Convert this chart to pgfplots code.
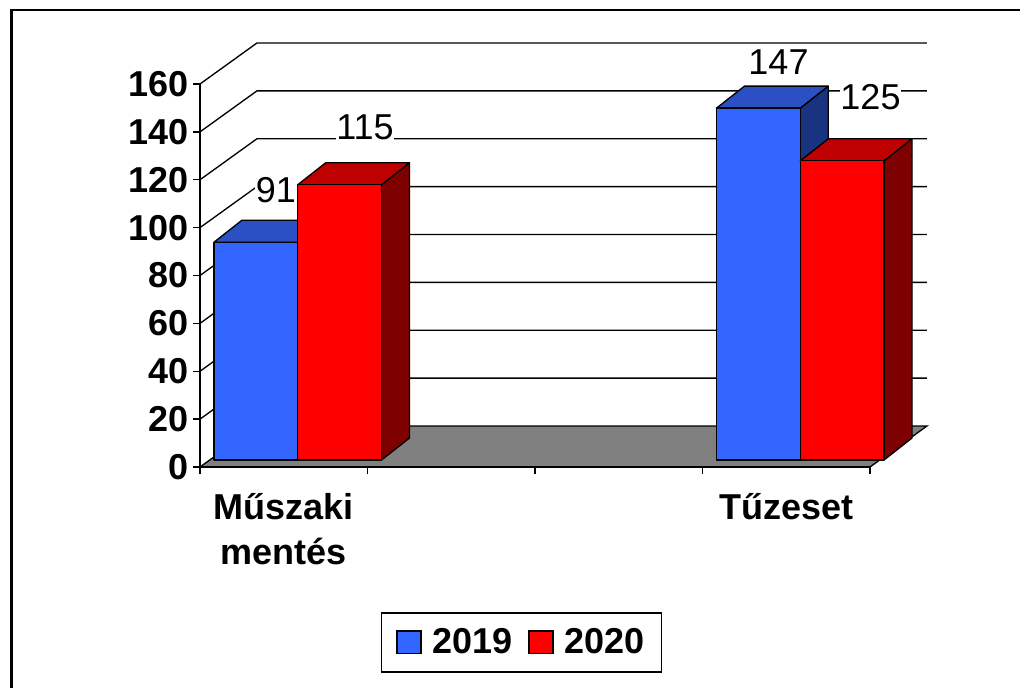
\documentclass[border=0pt]{standalone}
\usepackage{fontspec}
\setmainfont{Liberation Sans}
\usepackage{pgfplots}
\pgfplotsset{compat=1.18}
\definecolor{bfront}{HTML}{3366FF}
\definecolor{btop}{HTML}{2A50C4}
\definecolor{bside}{HTML}{1A3380}
\definecolor{rfront}{HTML}{FF0000}
\definecolor{rtop}{HTML}{BF0000}
\definecolor{rside}{HTML}{7F0000}
\definecolor{floorc}{HTML}{808080}
\newcommand{\bigfont}{\fontsize{27}{31.5}\selectfont}
% x0, x1, value, front, top, side
\newcommand{\threedbar}[6]{%
  \pgfmathsetmacro\xfa{#1+0.0836}%
  \pgfmathsetmacro\xfb{#2+0.0836}%
  \pgfmathsetmacro\xba{#1+0.2507}%
  \pgfmathsetmacro\xbb{#2+0.2507}%
  \pgfmathsetmacro\vf{#3+2.924}%
  \pgfmathsetmacro\vb{#3+12.11}%
  \addplot[forget plot, fill=#6, draw=black, line width=1pt, line join=round]
    coordinates {(\xfb,2.924) (\xbb,12.11) (\xbb,\vb) (\xfb,\vf)} -- cycle;
  \addplot[forget plot, fill=#5, draw=black, line width=1pt, line join=round]
    coordinates {(\xfa,\vf) (\xba,\vb) (\xbb,\vb) (\xfb,\vf)} -- cycle;
  \addplot[forget plot, fill=#4, draw=black, line width=1pt, line join=round]
    coordinates {(\xfa,2.924) (\xfb,2.924) (\xfb,\vf) (\xfa,\vf)} -- cycle;
}
\begin{document}
\begin{tikzpicture}
\useasboundingbox (0,0) rectangle (765pt,515.25pt);
\draw[line width=1.9pt] (8.6pt,-5pt) -- (8.6pt,507.6pt) -- (770pt,507.6pt);
\begin{axis}[
  at={(150pt,165pt)}, anchor=south west, scale only axis,
  width=502.5pt, height=287.25pt,
  xmin=0, xmax=4, ymin=0, ymax=160,
  clip=false, axis on top,
  axis lines*=left,
  x axis line style={line width=2pt},
  y axis line style={line width=1.1pt},
  ytick={0,20,...,160},
  xtick={0,1,2,3,4}, xticklabels={},
  extra x ticks={0.5,3.5},
  extra x tick labels={{Műszaki\\[2pt]mentés},{Tűzeset}},
  extra x tick style={major tick length=0pt},
  tick align=outside, major tick length=5.25pt,
  tick style={black, line width=1pt},
  ticklabel style={font=\bigfont\bfseries},
  xticklabel style={align=center, anchor=north, yshift=-16.5pt},
  /pgf/number format/assume math mode=true,
  legend columns=2,
  legend style={at={(0.48,-0.458)}, anchor=center, draw=black, line width=1.1pt,
    font=\bigfont\bfseries, inner xsep=11pt, inner ysep=10pt,
    /tikz/every odd column/.append style={column sep=6pt},
    /tikz/every even column/.append style={column sep=10pt}},
  legend image code/.code={\draw[#1, line width=1pt] (0pt,-8.5pt) rectangle (18pt,8.5pt);},
]
% floor
\addplot[forget plot, fill=floorc, draw=black, line width=1pt]
  coordinates {(0,0) (4,0) (4.34,17.13) (0.34,17.13)} -- cycle;
% side wall + back wall gridlines
\addplot[forget plot, black, line width=1pt] coordinates {(0,20) (0.34,37.13) (4.34,37.13)};
\addplot[forget plot, black, line width=1pt] coordinates {(0,40) (0.34,57.13) (4.34,57.13)};
\addplot[forget plot, black, line width=1pt] coordinates {(0,60) (0.34,77.13) (4.34,77.13)};
\addplot[forget plot, black, line width=1pt] coordinates {(0,80) (0.34,97.13) (4.34,97.13)};
\addplot[forget plot, black, line width=1pt] coordinates {(0,100) (0.34,117.13) (4.34,117.13)};
\addplot[forget plot, black, line width=1pt] coordinates {(0,120) (0.34,137.13) (4.34,137.13)};
\addplot[forget plot, black, line width=1pt] coordinates {(0,140) (0.34,157.13) (4.34,157.13)};
\addplot[forget plot, black, line width=1pt] coordinates {(0,160) (0.34,177.13) (4.34,177.13)};
% bars: Műszaki mentés 2019 = 91, 2020 = 115 ; Tűzeset 2019 = 147, 2020 = 125
\threedbar{0}{0.5}{91}{bfront}{btop}{bside}
\threedbar{0.5}{1}{115}{rfront}{rtop}{rside}
\threedbar{3}{3.5}{147}{bfront}{btop}{bside}
\threedbar{3.5}{4}{125}{rfront}{rtop}{rside}
\addlegendimage{fill=bfront, draw=black}
\addlegendentry{2019}
\addlegendimage{fill=rfront, draw=black}
\addlegendentry{2020}
\node[font=\bigfont, fill=white, inner sep=0.5pt] at (axis cs:0.4537,115.7) {91};
\node[font=\bigfont, fill=white, inner sep=0.5pt] at (axis cs:0.9851,142.0) {115};
\node[font=\bigfont, fill=white, inner sep=0.5pt] at (axis cs:3.4537,169.0) {147};
\node[font=\bigfont, fill=white, inner sep=0.5pt] at (axis cs:4.003,154.5) {125};
\end{axis}
\end{tikzpicture}
\end{document}
